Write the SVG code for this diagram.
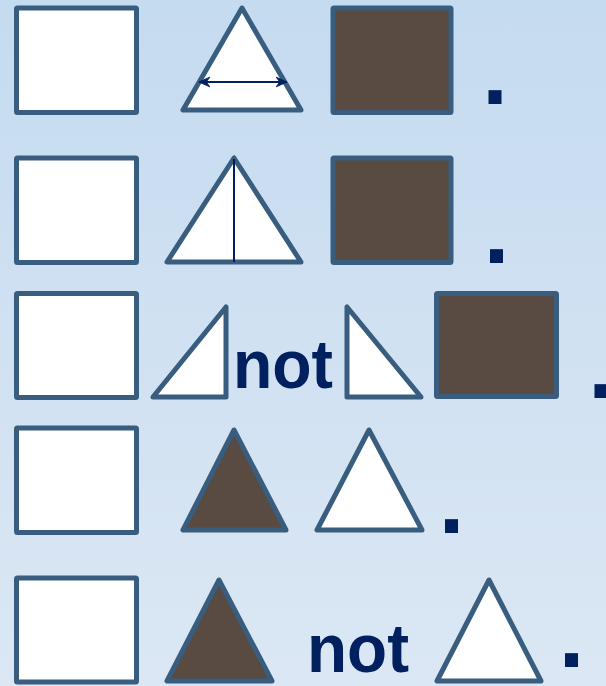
<svg xmlns="http://www.w3.org/2000/svg" width="606" height="686" viewBox="0 0 606 686">
<defs>
<linearGradient id="bg" x1="0" y1="0" x2="0" y2="1">
<stop offset="0" stop-color="#C5DBF0"/>
<stop offset="1" stop-color="#DBE7F4"/>
</linearGradient>
<marker id="ah" viewBox="0 0 10 10" refX="9" refY="5" markerWidth="6" markerHeight="6" orient="auto-start-reverse" markerUnits="strokeWidth">
<path d="M0,1 L9,5 L0,9 L3,5 Z" fill="#002060" stroke="#002060" stroke-width="0.8" stroke-linejoin="round"/>
</marker>
<style>
.s{stroke:#385D7E;stroke-width:5;stroke-linejoin:round}
.w{fill:#FFFFFF}
.d{fill:#594A42}
.t{font-family:"Liberation Sans",Arial,sans-serif;font-weight:bold;fill:#002060}
.dot{font-family:"Liberation Sans",Arial,sans-serif;font-weight:bold;fill:#002060;font-size:92px;text-anchor:middle}
.ln{stroke:#002060;stroke-width:2;fill:none}
</style>
</defs>
<rect width="606" height="686" fill="url(#bg)"/>

<g id="row1">
<rect id="sq1" class="s w" x="16.5" y="8" width="120" height="104.5" rx="1"/>
<polygon id="tri1" class="s w" points="242,8 183,110 301,110"/>
<rect id="dsq1" class="s d" x="333" y="8" width="118" height="104.5" rx="1"/>
<text class="dot" x="495" y="104">.</text>
</g>

<g id="row2">
<rect id="sq2" class="s w" x="16.5" y="158" width="120" height="104.5" rx="1"/>
<polygon id="tri2" class="s w" points="234,158 167,262 301,262"/>
<rect id="dsq2" class="s d" x="333" y="158" width="118" height="104.5" rx="1"/>
<text class="dot" x="496.5" y="263">.</text>
</g>

<g id="row3">
<rect id="sq3" class="s w" x="16.5" y="293.5" width="120" height="104" rx="1"/>
<polygon id="rt1" class="s w" points="226,307 226,397 153,397"/>
<text class="t" x="233" y="388" font-size="68" textLength="100" lengthAdjust="spacingAndGlyphs">not</text>
<polygon id="rt2" class="s w" points="347,307 347,397 421,397"/>
<rect id="dsq3" class="s d" x="436.5" y="293.5" width="120" height="103" rx="1"/>
<text class="dot" x="601" y="398">.</text>
</g>

<g id="row4">
<rect id="sq4" class="s w" x="16.5" y="428" width="120" height="104.5" rx="1"/>
<polygon id="dtri4" class="s d" points="234,430 183,530 286,530"/>
<polygon id="tri4" class="s w" points="369,430 317,530 422,530"/>
<text class="dot" x="451.5" y="533">.</text>
</g>

<g id="row5">
<rect id="sq5" class="s w" x="16.5" y="578" width="120" height="104" rx="1"/>
<polygon id="dtri5" class="s d" points="219,580 167,681 272,681"/>
<text class="t" x="307" y="672" font-size="68" textLength="102" lengthAdjust="spacingAndGlyphs">not</text>
<polygon id="tri5" class="s w" points="489,580 437,681 541,681"/>
<text class="dot" x="571.5" y="667">.</text>
</g>

<g id="connectors">
<line class="ln" x1="199" y1="82" x2="287" y2="82" marker-start="url(#ah)" marker-end="url(#ah)"/>
<line class="ln" x1="234" y1="159" x2="234" y2="262"/>
</g>
</svg>
